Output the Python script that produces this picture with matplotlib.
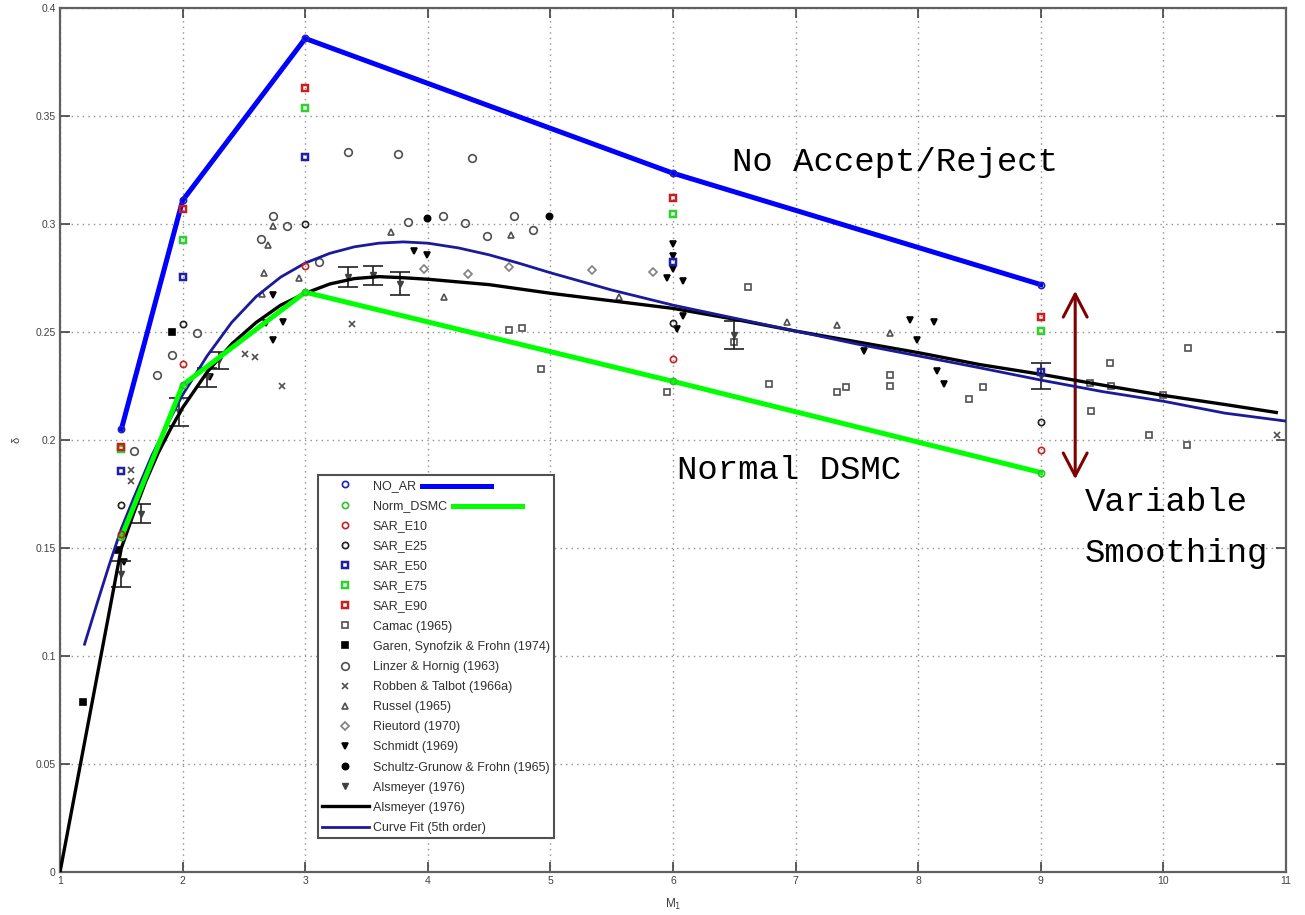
import numpy as np
import matplotlib
matplotlib.use('Agg')
import matplotlib.pyplot as plt
from matplotlib.lines import Line2D

plt.rcParams['font.family'] = ['Liberation Sans', 'DejaVu Sans']

# DSMC runs, one point per Mach number
mach_dsmc = [1.5, 2, 3, 6, 9]
no_ar = [0.205, 0.311, 0.386, 0.3236, 0.272]
norm_dsmc = [0.155, 0.2255, 0.2685, 0.2272, 0.1850]
sar_e10 = [0.1566, 0.2351, 0.2805, 0.2377, 0.1955]
sar_e25 = [0.1700, 0.2538, 0.3000, 0.2542, 0.2084]
sar_e50 = [0.1858, 0.2755, 0.3310, 0.2826, 0.2316]
sar_e75 = [0.1960, 0.2925, 0.3540, 0.3045, 0.2505]
sar_e90 = [0.1970, 0.3070, 0.3630, 0.3120, 0.2570]

# experimental data
camac_x = [4.66, 4.77, 4.92, 5.95, 6.50, 6.61, 6.78, 7.34, 7.41, 7.77, 7.77, 8.41, 8.53,
           9.40, 9.41, 9.56, 9.57, 9.88, 10.0, 10.19, 10.2]
camac_y = [0.2510, 0.2518, 0.2330, 0.2225, 0.2454, 0.2708, 0.2262, 0.2222, 0.2247, 0.2302, 0.2251,
           0.2192, 0.2248, 0.2263, 0.2136, 0.2357, 0.2251, 0.2024, 0.2208, 0.1977, 0.2425]
garen_x = [1.19, 1.47, 1.91]
garen_y = [0.0785, 0.1490, 0.2500]
linzer_x = [1.60, 1.79, 1.91, 2.12, 2.64, 2.74, 2.85, 3.11, 3.35, 3.76, 3.84, 4.12, 4.30,
            4.36, 4.48, 4.70, 4.86]
linzer_y = [0.1950, 0.2300, 0.2392, 0.2494, 0.2930, 0.3040, 0.2990, 0.2827, 0.3333, 0.3324,
            0.3012, 0.3036, 0.3005, 0.3306, 0.2946, 0.3039, 0.2974]
robben_x = [1.58, 1.58, 2.51, 2.59, 2.81, 3.38, 10.93]
robben_y = [0.1860, 0.1812, 0.2397, 0.2385, 0.2251, 0.2536, 0.2023]
russel_x = [2.65, 2.66, 2.70, 2.74, 2.95, 3.70, 4.13, 4.68, 5.56, 6.93, 7.34, 7.77]
russel_y = [0.2676, 0.2775, 0.2905, 0.2990, 0.2750, 0.2964, 0.2664, 0.2950, 0.2665, 0.2548,
            0.2531, 0.2495]
rieutord_x = [3.97, 4.33, 4.66, 5.34, 5.84]
rieutord_y = [0.2792, 0.2769, 0.2800, 0.2790, 0.2777]
schmidt_x = [1.52, 2.22, 2.68, 2.74, 2.74, 2.82, 3.89, 3.99, 6.00, 6.00, 6.00, 5.95, 6.08,
             6.08, 6.03, 7.56, 7.93, 8.13, 7.99, 8.15, 8.21]
schmidt_y = [0.1435, 0.2290, 0.2542, 0.2674, 0.2462, 0.2545, 0.2877, 0.2858, 0.2908, 0.2854,
             0.2792, 0.2750, 0.2735, 0.2577, 0.2515, 0.2412, 0.2557, 0.2546, 0.2464, 0.2322,
             0.2260]
schultz_x = [3.99, 4.99]
schultz_y = [0.3028, 0.3040]

# Alsmeyer (1976) points with error bars
alsm_x = [1.50, 1.66, 1.97, 2.20, 2.30, 3.35, 3.55, 3.77, 6.50, 9.00]
alsm_y = [0.1380, 0.1660, 0.2130, 0.2290, 0.2370, 0.2755, 0.2763, 0.2725, 0.2485, 0.2298]
alsm_err = [0.0060, 0.0045, 0.0065, 0.0045, 0.0040, 0.0045, 0.0045, 0.0055, 0.0065, 0.0060]

# Alsmeyer (1976) profile and 5th order fit
alsm_line_x = [1.0, 1.5, 1.6, 1.7, 1.8, 1.9, 2.0, 2.2, 2.4, 2.6, 2.8, 3.0, 3.2, 3.4, 3.6, 3.8,
               4.0, 4.5, 5.0, 5.5, 6.0, 6.5, 7.0, 7.5, 8.0, 8.5, 9.0, 9.5, 10.0, 10.5, 10.92]
alsm_line_y = [0.0, 0.150, 0.166, 0.181, 0.194, 0.205, 0.215, 0.2315, 0.2445, 0.2545, 0.2625,
               0.268, 0.2723, 0.2748, 0.2757, 0.2752, 0.2745, 0.272, 0.268, 0.2645, 0.261,
               0.256, 0.2505, 0.2455, 0.2405, 0.235, 0.2305, 0.2255, 0.2207, 0.2165, 0.2128]
fit_x = [1.2, 1.3, 1.4, 1.5, 1.6, 1.75, 1.9, 2.0, 2.2, 2.4, 2.6, 2.8, 3.0, 3.2, 3.4, 3.6, 3.8,
         4.0, 4.25, 4.5, 4.75, 5.0, 5.5, 6.0, 6.5, 7.0, 7.5, 8.0, 8.5, 9.0, 9.5, 10.0, 10.5, 11.0]
fit_y = [0.1055, 0.124, 0.142, 0.159, 0.173, 0.193, 0.210, 0.221, 0.239, 0.2545, 0.2665,
         0.2755, 0.282, 0.2865, 0.2895, 0.2912, 0.2918, 0.2912, 0.289, 0.2858, 0.2818, 0.2775,
         0.2695, 0.2625, 0.2565, 0.2505, 0.2445, 0.239, 0.2335, 0.2278, 0.2225, 0.218, 0.2125,
         0.2088]

fig = plt.figure(figsize=(13.05, 9.15), dpi=100)
ax = fig.add_axes([0.046, 0.047, 0.9395, 0.944])

ms = 4.5
mew = 1.2
gray = '#505050'
ax.plot(mach_dsmc, no_ar, '-', color='#0000ff', lw=3.6, zorder=5)
ax.plot(mach_dsmc, norm_dsmc, '-', color='#00ff00', lw=3.6, zorder=5)

h = []
h += ax.plot(mach_dsmc, no_ar, 'o', ls='none', mfc='none', mec='#2020c0', ms=ms, mew=mew, label='NO_AR', zorder=6)
h += ax.plot(mach_dsmc, norm_dsmc, 'o', ls='none', mfc='none', mec='#30c030', ms=ms, mew=mew, label='Norm_DSMC', zorder=6)
h += ax.plot(mach_dsmc, sar_e10, 'o', ls='none', mfc='none', mec='#c82020', ms=ms, mew=mew, label='SAR_E10', zorder=6)
h += ax.plot(mach_dsmc, sar_e25, 'o', ls='none', mfc='none', mec='#202020', ms=ms, mew=mew, label='SAR_E25', zorder=6)
h += ax.plot(mach_dsmc, sar_e50, 's', ls='none', mfc='none', mec='#2020a0', ms=ms + 0.5, mew=mew + 0.6, label='SAR_E50', zorder=6)
h += ax.plot(mach_dsmc, sar_e75, 's', ls='none', mfc='none', mec='#30d030', ms=ms + 0.5, mew=mew + 0.6, label='SAR_E75', zorder=6)
h += ax.plot(mach_dsmc, sar_e90, 's', ls='none', mfc='none', mec='#c82020', ms=ms + 0.5, mew=mew + 0.6, label='SAR_E90', zorder=6)

h += ax.plot(camac_x, camac_y, 's', ls='none', mfc='none', mec=gray, ms=ms, mew=mew, label='Camac (1965)')
h += ax.plot(garen_x, garen_y, 's', ls='none', mfc='black', mec='black', ms=ms, mew=mew, label='Garen, Synofzik & Frohn (1974)')
h += ax.plot(linzer_x, linzer_y, 'o', ls='none', mfc='none', mec=gray, ms=ms + 1, mew=mew, label='Linzer & Hornig (1963)')
h += ax.plot(robben_x, robben_y, 'x', ls='none', color=gray, ms=ms - 0.5, mew=mew, label='Robben & Talbot (1966a)')
h += ax.plot(russel_x, russel_y, '^', ls='none', mfc='none', mec=gray, ms=ms, mew=mew, label='Russel (1965)')
h += ax.plot(rieutord_x, rieutord_y, 'D', ls='none', mfc='none', mec='#808080', ms=ms - 0.5, mew=mew, label='Rieutord (1970)')
h += ax.plot(schmidt_x, schmidt_y, 'v', ls='none', mfc='black', mec='black', ms=ms, mew=mew, label='Schmidt (1969)')
h += ax.plot(schultz_x, schultz_y, 'o', ls='none', mfc='black', mec='black', ms=ms, mew=mew, label='Schultz-Grunow & Frohn (1965)')
ax.errorbar(alsm_x, alsm_y, yerr=alsm_err, fmt='none', ecolor='#202020', elinewidth=1.2,
            capsize=7.5, capthick=1.2)
h += ax.plot(alsm_x, alsm_y, 'v', ls='none', mfc='#404040', mec='#404040', ms=ms, label='Alsmeyer (1976)')

h += ax.plot(alsm_line_x, alsm_line_y, '-', color='black', lw=2.4, label='Alsmeyer (1976)', zorder=4)
h += ax.plot(fit_x, fit_y, '-', color='#1a1a9a', lw=2.0, label='Curve Fit (5th order)', zorder=4)

ax.set_xlim(1, 11)
ax.set_ylim(0, 0.4)
ax.set_xticks(range(1, 12))
ax.set_yticks([0, 0.05, 0.1, 0.15, 0.2, 0.25, 0.3, 0.35, 0.4])
ax.set_yticklabels(['0', '0.05', '0.1', '0.15', '0.2', '0.25', '0.3', '0.35', '0.4'])
ax.grid(True, ls=(0, (1, 3)), color='#909090', lw=1.0)
ax.tick_params(direction='in', length=7, width=1.2, colors='#404040', labelsize=7.5,
               top=True, right=True, pad=3)
for sp in ax.spines.values():
    sp.set_color('#606060')
    sp.set_linewidth(1.6)
ax.set_xlabel('M$_1$', fontsize=8.5, color='#404040', labelpad=8)
ax.set_ylabel('δ', fontsize=8, color='#404040', rotation=90, labelpad=10)

leg = ax.legend(handles=h, loc='lower left', bbox_to_anchor=(0.2104, 0.039), borderaxespad=0,
                fontsize=9, frameon=True, fancybox=False, framealpha=1, edgecolor='#505050',
                labelspacing=0.65, handlelength=3.7, handletextpad=0.32, borderpad=0.35)
leg.get_frame().set_linewidth(1.5)
for t in leg.get_texts():
    t.set_color('#303030')
leg.set_zorder(10)

# thick swatches beside the two DSMC entries
fig.canvas.draw()
for txt, col in zip(leg.get_texts()[:2], ['#0000ff', '#00ff00']):
    bb = txt.get_window_extent().transformed(fig.transFigure.inverted())
    yc = (bb.y0 + bb.y1) / 2
    x0 = bb.x1 + 0.005
    fig.add_artist(Line2D([x0, x0 + 0.053], [yc, yc], color=col, lw=3.6, zorder=20))

mono = ['Liberation Mono', 'DejaVu Sans Mono']
ax.text(6.48, 0.3287, 'No Accept/Reject', family=mono, fontsize=24.5, va='center', ha='left')
ax.text(6.03, 0.1860, 'Normal DSMC', family=mono, fontsize=24.5, va='center', ha='left')
ax.text(9.36, 0.1713, 'Variable', family=mono, fontsize=24.5, va='center', ha='left')
ax.text(9.36, 0.1477, 'Smoothing', family=mono, fontsize=24.5, va='center', ha='left')
ax.annotate('', xy=(9.28, 0.2704), xytext=(9.28, 0.1806),
            arrowprops=dict(arrowstyle='<->,head_length=1.65,head_width=0.86', color='#800000', lw=2.2))

fig.savefig('out.png', dpi=100)
